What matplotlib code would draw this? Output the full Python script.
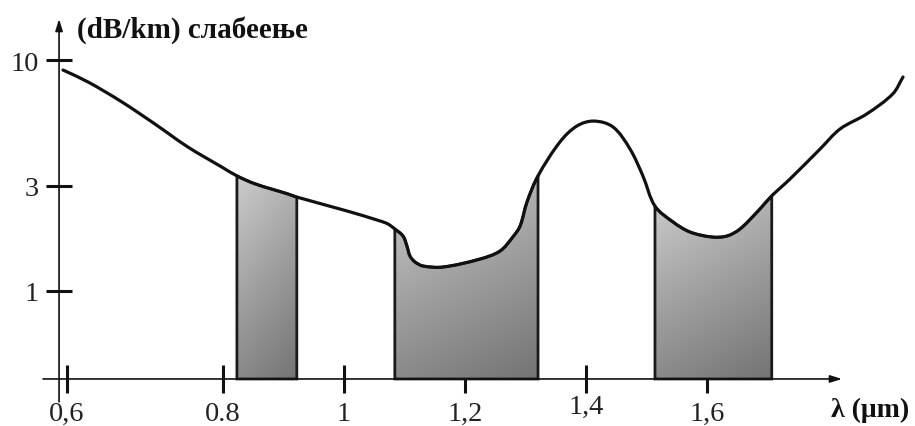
import numpy as np
import matplotlib
matplotlib.use('Agg')
import matplotlib.pyplot as plt
import matplotlib.transforms as mtransforms
from matplotlib.colors import LinearSegmentedColormap
from matplotlib.path import Path
from matplotlib.patches import PathPatch

# ---- data ----
wavelength_um = [0.5355, 0.577, 0.633, 0.6876, 0.742, 0.798, 0.823, 0.853, 0.9074, 0.922,
                 1.005, 1.0595, 1.0727, 1.084, 1.0975, 1.104, 1.109, 1.1174, 1.1306, 1.1636,
                 1.2248, 1.258, 1.279, 1.291, 1.3025, 1.3207, 1.357, 1.385, 1.413,
                 1.4446, 1.4727, 1.494, 1.514, 1.5438, 1.572, 1.608, 1.633, 1.6545, 1.683,
                 1.707, 1.737, 1.787, 1.82, 1.864, 1.907, 1.924]
attenuation_db_km = [9.05, 8.03, 6.58, 5.28, 4.20, 3.44, 3.15, 2.91, 2.63, 2.55,
                     2.22, 2.01, 1.95, 1.855, 1.73, 1.566, 1.418, 1.335, 1.283, 1.27,
                     1.375, 1.49, 1.713, 1.91, 2.43, 3.15, 4.42, 5.18, 5.44,
                     5.13, 4.12, 3.15, 2.33, 1.99, 1.80, 1.713, 1.73, 1.855, 2.2,
                     2.58, 3.05, 4.12, 5.03, 5.84, 7.13, 8.44]
windows_um = [(0.823, 0.922), (1.084, 1.3207), (1.514, 1.707)]
xtick_values = [0.542, 0.8, 1.0, 1.2, 1.4, 1.6]
xtick_labels = ['0,6', '0.8', '1', '1,2', '1,4', '1,6']
ytick_values = [1, 2.85, 10]
ytick_labels = ['1', '3', '10']
y_title = '(dB/km) слабеење'
x_title = 'λ (μm)'

# ---- layout ----
XLIM = (0.4314, 1.9438)
YLIM = (0.2603, 18.37)
Y_AXIS_X = 0.529
X_AXIS_Y = 0.416
SERIF = ['Liberation Serif', 'DejaVu Serif']

plt.rcParams['font.family'] = SERIF
fig = plt.figure(figsize=(9.15, 4.27), dpi=100)
ax = fig.add_axes([0, 0, 1, 1])
ax.set_yscale('log')
ax.set_xlim(*XLIM)
ax.set_ylim(*YLIM)
ax.set_facecolor('white')

lam = np.array(wavelength_um)
att = np.array(attenuation_db_km)


def smooth_segments(x, y):
    """Bezier control points (smooth line style) through the given points,
    built in (x, log y) space so they follow the log axis."""
    P = np.column_stack([x, np.log10(y)])
    S = np.array([605.0, 231.0])  # rough screen scale for chord lengths
    Q = P * S
    n = len(Q)
    T = np.zeros_like(Q)
    for i in range(n):
        d = Q[min(i + 1, n - 1)] - Q[max(i - 1, 0)]
        T[i] = d / np.linalg.norm(d)
    segs = []
    for i in range(n - 1):
        L = np.linalg.norm(Q[i + 1] - Q[i])
        c1 = (Q[i] + T[i] * L / 3) / S
        c2 = (Q[i + 1] - T[i + 1] * L / 3) / S
        segs.append([(c1[0], 10 ** c1[1]), (c2[0], 10 ** c2[1]),
                     (x[i + 1], y[i + 1])])
    return segs


segs = smooth_segments(lam, att)

# main curve path
verts = [(lam[0], att[0])]
codes = [Path.MOVETO]
for s in segs:
    verts += s
    codes += [Path.CURVE4] * 3
curve_path = Path(verts, codes)

cmap = LinearSegmentedColormap.from_list('g', ['#cfcfcf', '#a0a0a0', '#747474'])
to_axes = ax.transData + ax.transAxes.inverted()

for a, b in windows_um:
    ia = int(np.argmin(np.abs(lam - a)))
    ib = int(np.argmin(np.abs(lam - b)))
    wv = [(a, X_AXIS_Y), (a, att[ia])]
    wc = [Path.MOVETO, Path.LINETO]
    for i in range(ia, ib):
        wv += segs[i]
        wc += [Path.CURVE4] * 3
    wv += [(b, X_AXIS_Y), (a, X_AXIS_Y)]
    wc += [Path.LINETO, Path.CLOSEPOLY]
    wpath = Path(wv, wc)
    edge = PathPatch(wpath, facecolor='none', edgecolor='#1a1a1a', linewidth=2.0,
                     transform=ax.transData, zorder=3)
    ax.add_patch(edge)
    (ax0, ay0) = to_axes.transform((a, X_AXIS_Y))
    (ax1, ay1) = to_axes.transform((b, att[ia:ib + 1].max() * 1.1))
    gx, gy = np.meshgrid(np.linspace(0, 1, 64), np.linspace(0, 1, 128))
    grad = 0.75 * gy + 0.25 * gx
    im = ax.imshow(grad, cmap=cmap, extent=[ax0, ax1, ay0, ay1], origin='upper',
                   transform=ax.transAxes, aspect='auto', interpolation='bilinear',
                   vmin=0, vmax=1, zorder=2)
    im.set_clip_path(wpath, ax.transData)

ax.add_patch(PathPatch(curve_path, facecolor='none', edgecolor='#111111',
                       linewidth=2.3, capstyle='round', joinstyle='round',
                       transform=ax.transData, zorder=4))

# axes lines with arrows
for s in ['top', 'right']:
    ax.spines[s].set_visible(False)
ax.spines['left'].set_position(('data', Y_AXIS_X))
ax.spines['bottom'].set_position(('data', X_AXIS_Y))
ax.spines['left'].set_color('none')
ax.spines['bottom'].set_color('none')
ax.annotate('', xy=(Y_AXIS_X, 15.05), xytext=(Y_AXIS_X, 0.331),
            arrowprops=dict(arrowstyle='-|>,head_length=0.7,head_width=0.22',
                            color='#111111', lw=1.2, shrinkA=0, shrinkB=0), zorder=5)
ax.annotate('', xy=(1.8231, X_AXIS_Y), xytext=(0.5025, X_AXIS_Y),
            arrowprops=dict(arrowstyle='-|>,head_length=0.7,head_width=0.22',
                            color='#111111', lw=1.2, shrinkA=0, shrinkB=0), zorder=5)

ax.set_xticks(xtick_values)
ax.set_xticklabels(xtick_labels)
ax.set_yticks(ytick_values)
ax.set_yticklabels(ytick_labels)
ax.yaxis.set_minor_locator(matplotlib.ticker.NullLocator())
ax.tick_params(axis='x', direction='inout', length=20, width=2.2, color='#111111',
               pad=6, labelsize=20.5, labelcolor='#222222')
ax.tick_params(axis='y', direction='inout', length=19, width=2.2, color='#111111',
               pad=5, labelsize=20.5, labelcolor='#222222')

# the "1,4" label sits a little higher in the original
for t in ax.xaxis.get_major_ticks():
    if t.label1.get_text() == '1,4':
        t.label1.set_transform(t.label1.get_transform() +
                               mtransforms.ScaledTranslation(0, 0.07, fig.dpi_scale_trans))

ax.text(0.0842, 0.93, y_title, transform=ax.transAxes, ha='left', va='center',
        fontsize=21, fontweight='bold', color='#111111')
ax.text(0.908, 0.038, x_title, transform=ax.transAxes, ha='left', va='center',
        fontsize=20, fontweight='bold', color='#111111')

ax.set_xlim(*XLIM)
ax.set_ylim(*YLIM)
fig.savefig('out.png', dpi=100, facecolor='white')
